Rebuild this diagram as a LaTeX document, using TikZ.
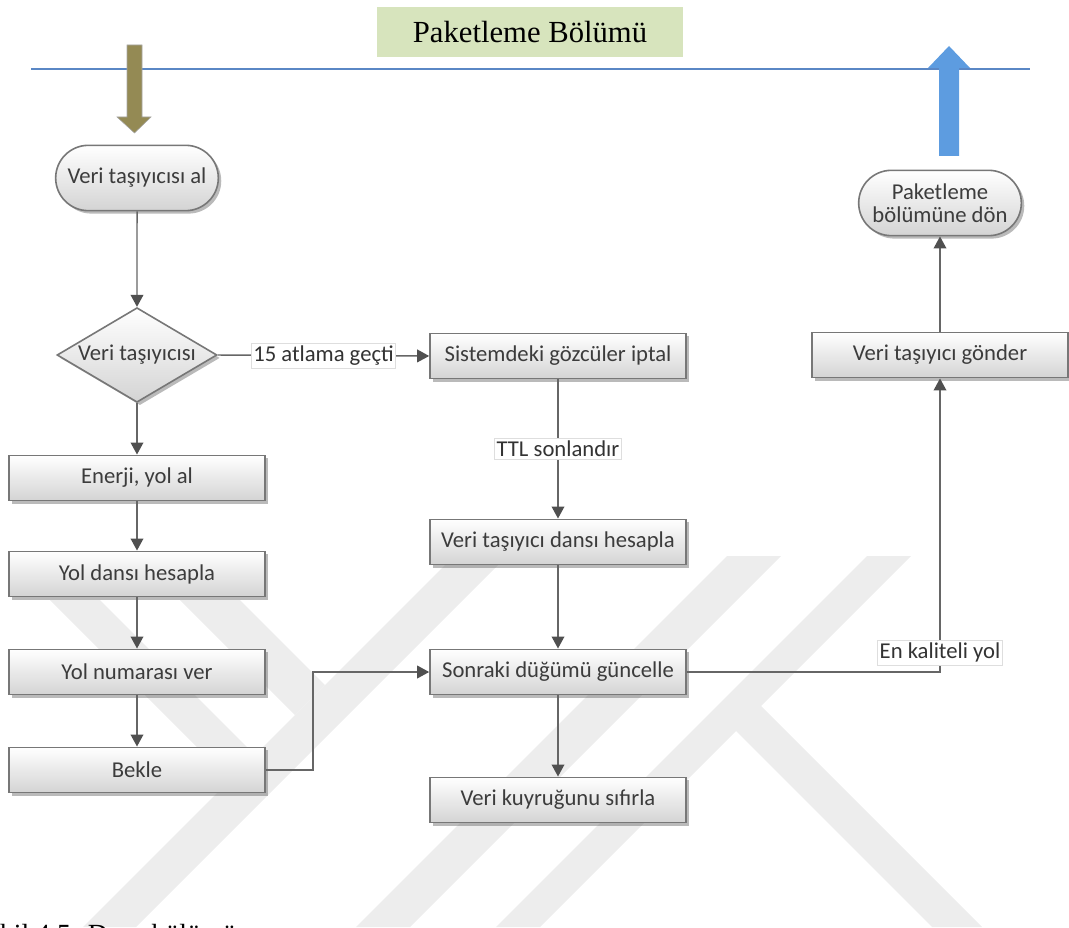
\documentclass[tikz,border=0pt]{standalone}
\usepackage{fontspec}
\setmainfont{Liberation Serif}
\newfontfamily\boxfont{Carlito}
\usetikzlibrary{shapes.geometric,shapes.misc,shadows,arrows.meta}

\definecolor{wmark}{HTML}{EDEDED}
\definecolor{boxline}{HTML}{777777}
\definecolor{boxtext}{HTML}{3C3C3C}
\definecolor{linkgray}{HTML}{666666}
\definecolor{headgray}{HTML}{505050}
\definecolor{titlegreen}{HTML}{D7E4BD}
\definecolor{laneblue}{HTML}{5A87C5}
\definecolor{inarrow}{HTML}{948A54}
\definecolor{outarrow}{HTML}{5D9CE0}

\tikzset{
  base/.style={font=\boxfont\fontsize{17}{20}\selectfont, text=boxtext,
    draw=boxline, line width=1.2pt, top color=white, bottom color=black!17,
    drop shadow={shadow xshift=2.2pt, shadow yshift=-2.2pt, opacity=0.45, fill=black!60}},
  process/.style={base, rectangle, minimum width=192pt, minimum height=34pt, inner sep=0pt},
  terminal/.style={base, rounded rectangle, minimum width=122pt, minimum height=49pt,
    inner sep=0pt, align=center},
  decision/.style={base, diamond, aspect=1.68, minimum width=120pt, minimum height=71pt,
    inner sep=0pt},
  link/.style={draw=linkgray, line width=1.1pt,
    -{Triangle[length=9pt,width=9.5pt,color=headgray]}},
  tag/.style={font=\boxfont\fontsize{17}{20}\selectfont, text=black!80, fill=white,
    draw=black!13, line width=0.4pt, inner xsep=1.5pt, inner ysep=2pt},
  band/.style={fill=wmark, draw=none},
}

\begin{document}
\begin{tikzpicture}[x=0.75pt, y=-0.75pt]
  % canvas
  \path[use as bounding box] (0,0) rectangle (1069,927);
  \begin{scope}
    \clip (0,0) rectangle (1069,927);
    % faint background emblem
    \fill[band] (50,600) -- (100,600) -- (255,755) -- (230,780) -- cycle;
    \fill[band] (180,600) -- (240,600) -- (325,685) -- (295,715) -- cycle;
    \fill[band] (454,556) -- (507,556) -- (136,927) -- (83,927) -- cycle;
    \fill[band] (727,556) -- (781,556) -- (410,927) -- (356,927) -- cycle;
    \fill[band] (867,556) -- (911,556) -- (540,927) -- (496,927) -- cycle;
    \fill[band] (735,730) -- (760,705) -- (982,927) -- (932,927) -- cycle;
    % caption line at the foot
    \node[anchor=base west, inner sep=0pt, font=\fontsize{20.8}{24}\selectfont] (caption)
      at (-28,943) {Şekil 4.5: Dans bölümü};
  \end{scope}

  % lane header
  \node[fill=titlegreen, minimum width=230pt, minimum height=38pt, inner sep=0pt,
    font=\fontsize{23}{26}\selectfont] (title) at (530,32) {Paketleme Bölümü};
  \coordinate (laneL) at (31,69);
  \coordinate (laneR) at (1030,69);
  \draw[laneblue, line width=1.4pt] (laneL) -- (laneR);

  % entry and exit block arrows
  \filldraw[fill=inarrow, draw=black!35, line width=0.4pt]
    (127,45) -- (142,45) -- (142,117) -- (151,117) -- (134.5,133)
    -- (117,117) -- (127,117) -- cycle;
  \fill[outarrow]
    (939,156) -- (959,156) -- (959,68) -- (970,68) -- (949,46)
    -- (928,68) -- (939,68) -- cycle;

  % left column
  \node[terminal] (start) at (137,178) {Veri taşıyıcısı al};
  \node[decision] (dia) at (137,355) {Veri taşıyıcısı};
  \node[process] (enerji) at (137,478) {Enerji, yol al};
  \node[process] (yoldans) at (137,574) {Yol dansı hesapla};
  \node[process] (yolnum) at (137,672) {Yol numarası ver};
  \node[process] (bekle) at (137,770) {Bekle};

  % middle column
  \node[process] (sistem) at (558,356) {Sistemdeki gözcüler iptal};
  \node[process] (vdans) at (558,542) {Veri taşıyıcı dansı hesapla};
  \node[process] (sonraki) at (558,672) {Sonraki düğümü güncelle};
  \node[process] (kuyruk) at (558,800) {Veri kuyruğunu sıfırla};

  % right column
  \node[process] (gonder) at (940,355) {Veri taşıyıcı gönder};
  \node[terminal] (donus) at (940,203) {Paketleme\\[-3pt]bölümüne dön};

  % connectors
  \draw[link] (start) -- (dia);
  \draw[link] (dia) -- (enerji);
  \draw[link] (enerji) -- (yoldans);
  \draw[link] (yoldans) -- (yolnum);
  \draw[link] (yolnum) -- (bekle);
  \draw[link] (bekle.east) -- ++(47,0) |- (sonraki.west);
  \draw[link] (dia.east) -- node[tag] {15 atlama geçti} (sistem.west);
  \draw[link] (sistem) -- node[tag] {TTL sonlandır} (vdans);
  \draw[link] (vdans) -- (sonraki);
  \draw[link] (sonraki) -- (kuyruk);
  \draw[link] (sonraki.east) -| node[tag, pos=0.533] {En kaliteli yol} (gonder.south);
  \draw[link] (gonder) -- (donus);
\end{tikzpicture}
\end{document}
